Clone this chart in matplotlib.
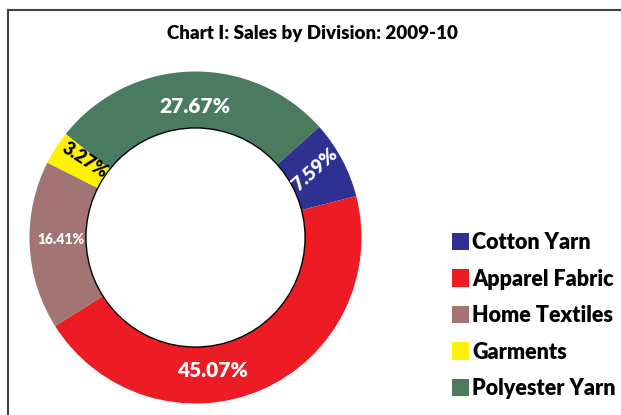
import matplotlib
matplotlib.use("Agg")
import matplotlib.pyplot as plt
import matplotlib.patches as mpatches
from matplotlib.lines import Line2D

# ── data ──────────────────────────────────────────────────────────────────────
divisions = ["Cotton Yarn", "Apparel Fabric", "Home Textiles", "Garments", "Polyester Yarn"]
shares    = [7.59, 45.07, 16.41, 3.27, 27.67]
colors    = ["#2E3192", "#ED1C24", "#A27474", "#FFF200", "#4A7B5F"]

# label styling (position in pie units, rotation, size, colour)
label_pos   = [(0.72, 0.41), (0.105, -0.80), (-0.81, -0.015), (-0.665, 0.467), (-0.003, 0.79)]
label_rot   = [42, 0, 0, -33, 0]
label_size  = [14, 15, 10, 13, 15]
label_color = ["white", "white", "white", "black", "white"]

plt.rcParams["font.family"] = ["Lato", "DejaVu Sans"]
WEIGHT = "heavy"

W, H = 621, 415
fig = plt.figure(figsize=(W / 100, H / 100), dpi=100)

# pie axes: centre (195.5, 237.5) px from top-left, radius 166 px
cx, cy, r = 195.5, 237.5, 166
ax = fig.add_axes([(cx - r) / W, (H - cy - r) / H, 2 * r / W, 2 * r / H])
ax.pie(shares, colors=colors, startangle=41.8, counterclock=False,
       radius=1.0, wedgeprops=dict(width=0.34, linewidth=0))
ax.add_patch(mpatches.Circle((0, 0), 0.66, facecolor="white",
                             edgecolor="black", linewidth=1.0, zorder=3))
ax.set_xlim(-1, 1)
ax.set_ylim(-1, 1)
ax.set_aspect("equal")
ax.axis("off")

for v, (x, y), rot, fs, c in zip(shares, label_pos, label_rot, label_size, label_color):
    ax.text(x, y, f"{v:.2f}%", ha="center", va="center", rotation=rot,
            fontsize=fs, fontweight=WEIGHT, color=c, zorder=4)

# title
fig.text(312 / W, 1 - 33 / H, "Chart I: Sales by Division: 2009-10",
         ha="center", va="center", fontsize=13.5, fontweight=WEIGHT)

# frame (top and left edges visible)
fig.add_artist(Line2D([8 / W, 1.0], [1 - 10 / H, 1 - 10 / H], color="#404040",
                      linewidth=1.5, transform=fig.transFigure))
fig.add_artist(Line2D([8 / W, 8 / W], [0.0, 1 - 10 / H], color="#404040",
                      linewidth=1.5, transform=fig.transFigure))

# legend
handles = [mpatches.Patch(facecolor=c, edgecolor="none") for c in colors]
fig.legend(handles, divisions, loc="upper left",
           bbox_to_anchor=(452 / W, 1 - 232 / H), frameon=False,
           prop=dict(weight=WEIGHT, size=15.5),
           handlelength=0.8, handleheight=0.85, handletextpad=0.15,
           labelspacing=0.72, borderaxespad=0, borderpad=0)

fig.savefig("out.png", dpi=100)
